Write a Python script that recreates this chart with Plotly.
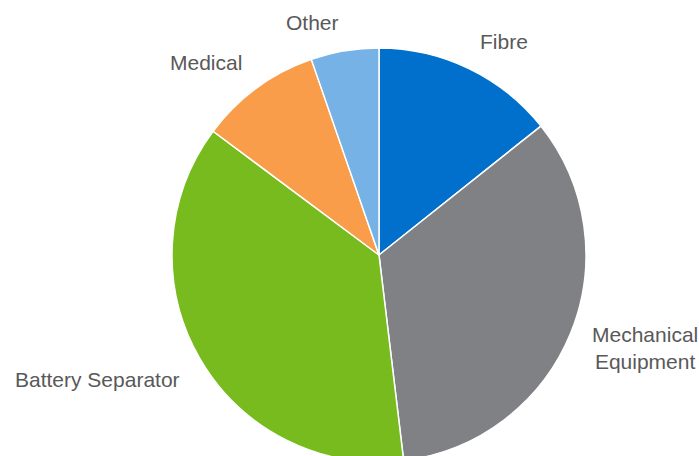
import math
import plotly.graph_objects as go

labels = ["Fibre", "Mechanical<br>Equipment", "Battery Separator", "Medical", "Other"]
values = [14.3, 33.8, 37.1, 9.5, 5.3]
colors = ["#0070CC", "#808184", "#77BB1F", "#F99D4B", "#76B2E5"]

W, H = 699, 462
dom_x = [172 / W, 586 / W]
dom_y = [0.0, 414 / H]

fig = go.Figure(go.Pie(
    labels=labels, values=values, sort=False, direction="clockwise", rotation=0,
    marker=dict(colors=colors, line=dict(color="white", width=1.5)),
    textinfo="none", hoverinfo="label+percent", showlegend=False,
    domain=dict(x=dom_x, y=dom_y),
))

# label placement derived from slice mid-angles
cx = (dom_x[0] + dom_x[1]) / 2 * W
cy = H - (dom_y[0] + dom_y[1]) / 2 * H
r = min((dom_x[1] - dom_x[0]) * W, (dom_y[1] - dom_y[0]) * H) / 2
gap_x, gap_y = 21, 15
total = sum(values)
cum = 0
for lab, v in zip(labels, values):
    mid = (cum + v / 2) / total * 2 * math.pi
    cum += v
    ux, uy = math.sin(mid), -math.cos(mid)
    px = cx + (r + gap_x) * ux
    py = cy + (r + gap_y) * uy
    xa = "left" if ux > 0.1 else ("right" if ux < -0.1 else "center")
    ya = "bottom" if uy < -0.45 else ("top" if uy > 0.45 else "middle")
    yshift = -9 if ya == "middle" else 0
    fig.add_annotation(x=px / W, y=1 - py / H, xref="paper", yref="paper",
                       text=lab, showarrow=False, xanchor=xa, yanchor=ya,
                       align="center", yshift=yshift,
                       font=dict(family="Liberation Sans, Arial, sans-serif", size=21, color="#595959"))

fig.update_layout(width=W, height=H, margin=dict(l=0, r=0, t=0, b=0),
                  paper_bgcolor="white", plot_bgcolor="white")

fig.write_html("out.html", config={"displayModeBar": False},
               post_script="document.body.style.margin='0';document.body.style.overflow='hidden';document.documentElement.style.overflow='hidden';")
